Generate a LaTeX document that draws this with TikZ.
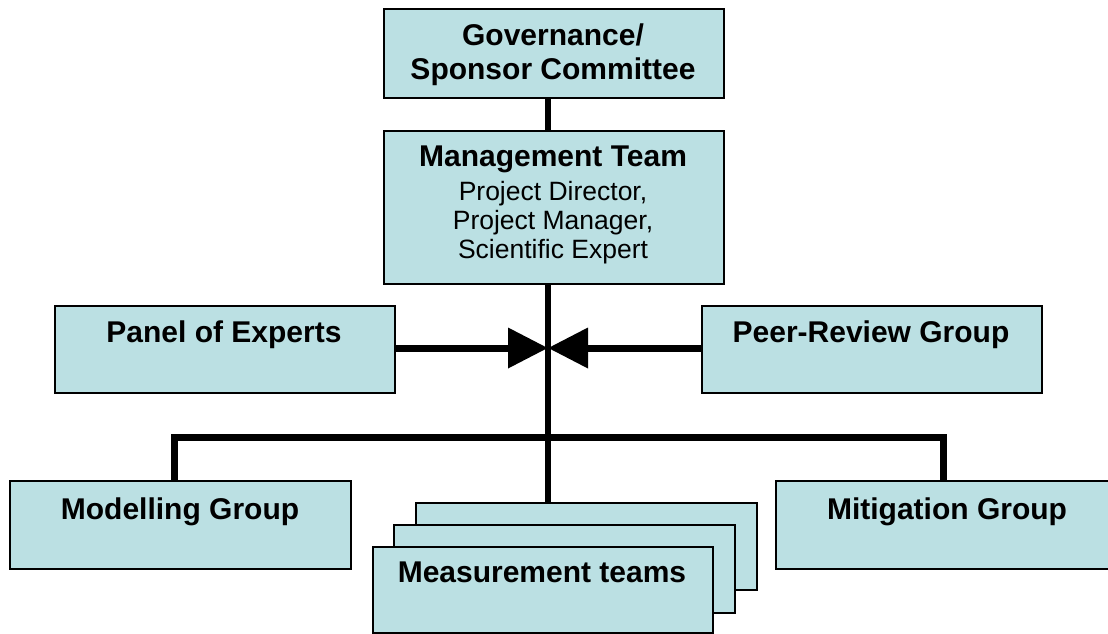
\documentclass[tikz,border=0pt]{standalone}
\usepackage{fontspec}
\setmainfont{Liberation Sans}
\usetikzlibrary{arrows.meta}
\definecolor{boxfill}{RGB}{187,224,227}
\begin{document}
\begin{tikzpicture}[x=1pt,y=-1pt,
  box/.style={draw=black, line width=1.7pt, fill=boxfill, inner sep=0pt, anchor=north west},
  btxt/.style={font=\fontsize{30}{34}\selectfont\bfseries, anchor=base, inner sep=0pt},
  rtxt/.style={font=\fontsize{26.5}{29}\selectfont, anchor=base, inner sep=0pt},
  spineline/.style={line width=5.5pt},
  busline/.style={line width=7pt, line join=miter},
  arrowline/.style={line width=7pt, -{Triangle[length=40pt,width=39pt]}}]
\useasboundingbox (0,0) rectangle (1108,634);
\clip (0,0) rectangle (1108,634);
% boxes
\node[box, minimum width=340pt, minimum height=89pt] (gov) at (383,8) {};
\node[box, minimum width=340pt, minimum height=153pt] (mgmt) at (383,130) {};
\node[box, minimum width=340pt, minimum height=87pt] (pan) at (54,305) {};
\node[box, minimum width=340pt, minimum height=87pt] (peer) at (701,305) {};
\node[box, minimum width=341pt, minimum height=88pt] (mod) at (9,480) {};
\node[box, minimum width=344pt, minimum height=88pt] (mit) at (775,480) {};
\node[box, minimum width=341pt, minimum height=87pt] (meas3) at (415,502) {};
\node[box, minimum width=341pt, minimum height=88pt] (meas2) at (393,524) {};
\node[box, minimum width=340pt, minimum height=86pt] (meas1) at (372,546) {};
% texts
\node[btxt] (govt1) at (553,46) {Governance/};
\node[btxt] (govt2) at (553,80) {Sponsor Committee};
\node[btxt] (mgt1) at (553,166) {Management Team};
\node[rtxt] (mgt2) at (553,200) {Project Director,};
\node[rtxt] (mgt3) at (553,229) {Project Manager,};
\node[rtxt] (mgt4) at (553,258) {Scientific Expert};
\node[btxt] (pant) at (224,342) {Panel of Experts};
\node[btxt] (peert) at (871,342) {Peer-Review Group};
\node[btxt] (modt) at (180,519) {Modelling Group};
\node[btxt] (mitt) at (947,519) {Mitigation Group};
\node[btxt] (meast) at (542,582) {Measurement teams};
% connectors
\coordinate (spine) at (548,0);
\coordinate (j) at (548,348);
\coordinate (bl) at (174,437);
\coordinate (br) at (943,437);
\draw[spineline] (spine |- gov.south) -- (spine |- mgmt.north);
\draw[spineline] (spine |- mgmt.south) -- (spine |- meas3.north);
\draw[busline] (bl |- mod.north) -- (bl) -- (br) -- (br |- mit.north);
\draw[arrowline] (pan.east |- j) -- (j);
\draw[arrowline] (peer.west |- j) -- (j);
\end{tikzpicture}
\end{document}
